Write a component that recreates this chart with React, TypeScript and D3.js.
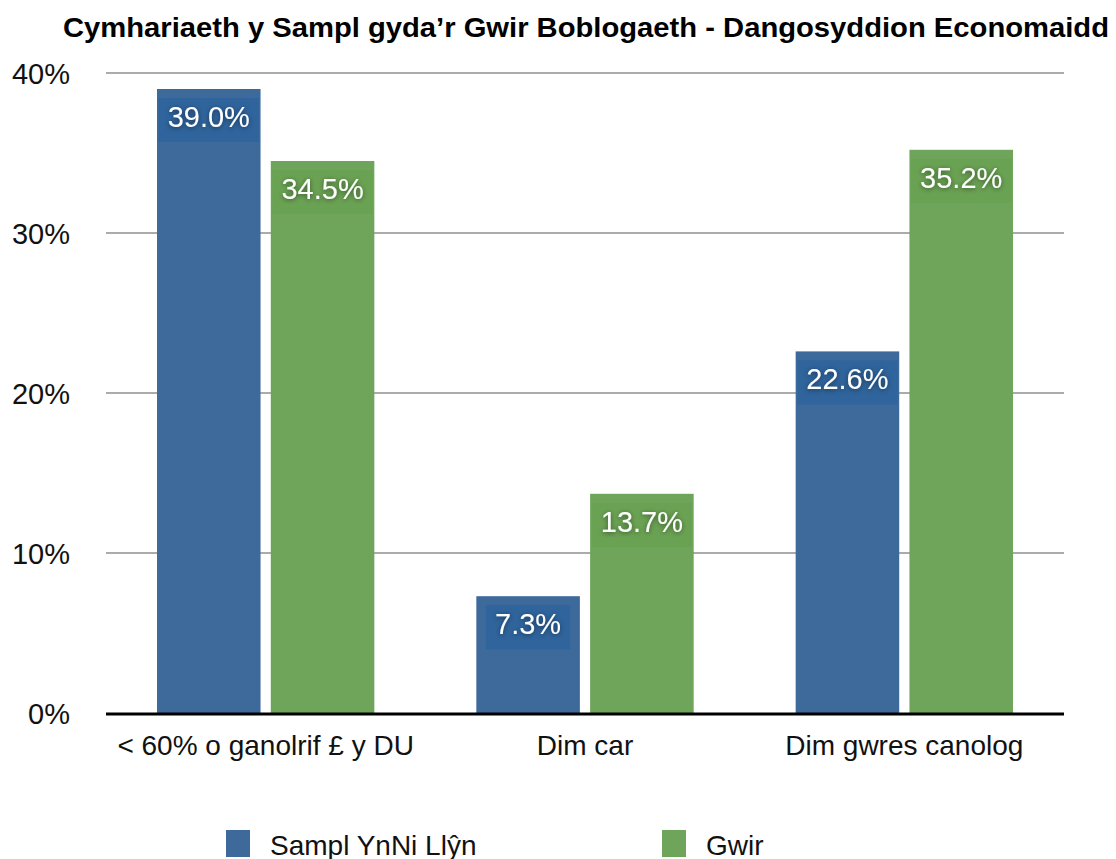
import React, { useEffect, useRef } from "react";
import * as d3 from "d3";

// Data
const categories = ["< 60% o ganolrif £ y DU", "Dim car", "Dim gwres canolog"];
const seriesNames = ["Sampl YnNi Llŷn", "Gwir"];
const samplValues = [39.0, 7.3, 22.6];
const gwirValues = [34.5, 13.7, 35.2];
const yTicks = [0, 10, 20, 30, 40];

const colors = ["#3d6a9b", "#6ea55a"];
const boxColors = ["#2f649c", "#6aa253"];

const App = () => {
  const svgRef = useRef<SVGSVGElement | null>(null);
  const width = 1116;
  const height = 859;

  useEffect(() => {
    const margin = { top: 73, right: 52, bottom: 146, left: 106 };

    d3.select(svgRef.current).selectAll("*").remove();

    const svg = d3
      .select(svgRef.current)
      .attr("viewBox", `0 0 ${width} ${height}`)
      .style("width", `${width}px`)
      .style("height", `${height}px`)
      .style("font-family", "'Liberation Sans', Arial, sans-serif");

    // text shadow
    const defs = svg.append("defs");
    defs
      .append("filter")
      .attr("id", "shadow")
      .attr("x", "-20%")
      .attr("y", "-40%")
      .attr("width", "140%")
      .attr("height", "180%")
      .append("feDropShadow")
      .attr("dx", 0)
      .attr("dy", 1)
      .attr("stdDeviation", 2.5)
      .attr("flood-color", "#000")
      .attr("flood-opacity", 0.5);

    const x0 = d3
      .scaleBand()
      .domain(categories)
      .range([margin.left, width - margin.right])
      .paddingInner(0)
      .paddingOuter(0);

    const x1 = d3
      .scaleBand()
      .domain(seriesNames)
      .range([51, x0.bandwidth() - 51])
      .paddingInner(0.09);

    const y = d3
      .scaleLinear()
      .domain([0, 40])
      .range([height - margin.bottom, margin.top]);

    // Gridlines
    svg
      .append("g")
      .selectAll("line")
      .data(yTicks.filter((t) => t > 0))
      .join("line")
      .attr("x1", margin.left)
      .attr("x2", width - margin.right)
      .attr("y1", (d) => y(d))
      .attr("y2", (d) => y(d))
      .attr("stroke", "#ababab")
      .attr("stroke-width", 2);

    // Y tick labels
    svg
      .append("g")
      .selectAll("text")
      .data(yTicks)
      .join("text")
      .attr("x", 70)
      .attr("y", (d) => y(d) + 11)
      .attr("text-anchor", "end")
      .style("font-size", "29px")
      .style("fill", "#111")
      .text((d) => `${d}%`);

    const rows = categories.map((c, i) => ({
      category: c,
      values: [samplValues[i], gwirValues[i]],
    }));

    // Bars
    const groups = svg
      .append("g")
      .selectAll("g")
      .data(rows)
      .join("g")
      .attr("transform", (d) => `translate(${x0(d.category)},0)`);

    const bars = groups
      .selectAll("g")
      .data((d) => d.values.map((v, i) => ({ name: seriesNames[i], value: v, i })))
      .join("g");

    bars
      .append("rect")
      .attr("x", (d) => x1(d.name)!)
      .attr("y", (d) => y(d.value))
      .attr("width", x1.bandwidth())
      .attr("height", (d) => y(0) - y(d.value))
      .attr("fill", (d) => colors[d.i]);

    bars.each(function (d) {
      const g = d3.select(this);
      const label = `${d.value.toFixed(1)}%`;
      const cx = x1(d.name)! + x1.bandwidth() / 2;
      const top = y(d.value) + 9;
      const box = g.append("rect").attr("fill", boxColors[d.i]);
      const text = g
        .append("text")
        .attr("x", cx)
        .attr("y", top + 29)
        .attr("text-anchor", "middle")
        .attr("filter", "url(#shadow)")
        .style("font-size", "29px")
        .style("fill", "#fff")
        .text(label);
      const tw = (text.node() as SVGTextElement).getComputedTextLength();
      const boxW = Math.min(x1.bandwidth() - 2, tw + 18);
      box
        .attr("x", cx - boxW / 2)
        .attr("y", top)
        .attr("width", boxW)
        .attr("height", 44);
    });

    // Baseline
    svg
      .append("line")
      .attr("x1", margin.left)
      .attr("x2", width - margin.right)
      .attr("y1", y(0) + 1)
      .attr("y2", y(0) + 1)
      .attr("stroke", "#000")
      .attr("stroke-width", 3);

    // Category labels
    svg
      .append("g")
      .selectAll("text")
      .data(categories)
      .join("text")
      .attr("x", (d) => x0(d)! + x0.bandwidth() / 2)
      .attr("y", 755)
      .attr("text-anchor", "middle")
      .style("font-size", "28px")
      .style("fill", "#111")
      .text((d) => d);

    // Title
    svg
      .append("text")
      .attr("x", 586)
      .attr("y", 37)
      .attr("text-anchor", "middle")
      .attr("textLength", 1046)
      .attr("lengthAdjust", "spacingAndGlyphs")
      .style("font-size", "28.5px")
      .style("font-weight", "bold")
      .style("fill", "#000")
      .text("Cymhariaeth y Sampl gyda’r Gwir Boblogaeth - Dangosyddion Economaidd");

    // Legend
    const legendX = [226, 662];
    const legend = svg
      .append("g")
      .selectAll("g")
      .data(seriesNames)
      .join("g")
      .attr("transform", (d, i) => `translate(${legendX[i]},830)`);

    legend
      .append("rect")
      .attr("width", 24)
      .attr("height", 27)
      .attr("fill", (d, i) => colors[i]);

    legend
      .append("text")
      .attr("x", 44)
      .attr("y", 25)
      .style("font-size", "28px")
      .style("fill", "#111")
      .text((d) => d);
  }, []);

  return <svg ref={svgRef} style={{ display: "block", position: "absolute", left: 0, top: 0 }}></svg>;
};

export default App;
